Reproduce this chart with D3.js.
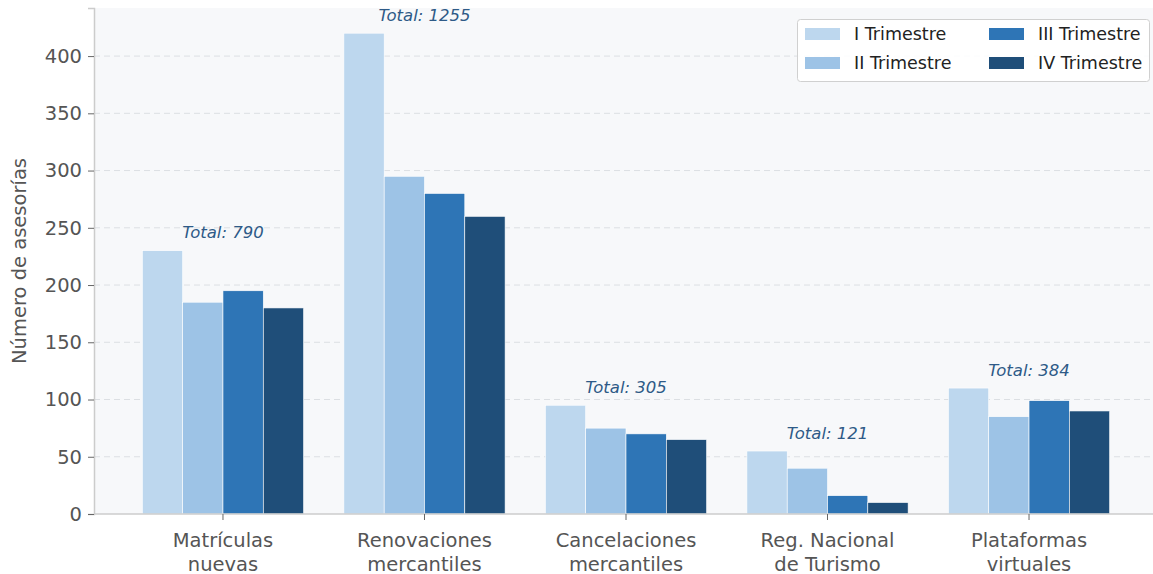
<!DOCTYPE html>
<html><head><meta charset="utf-8">
<script src="https://cdn.jsdelivr.net/npm/d3@7"></script>
<style>body{margin:0;background:#fff;} svg{display:block;font-family:"DejaVu Sans",sans-serif;}</style>
</head><body>
<svg id="c" width="1153" height="574"></svg>
<script>
const categories = [["Matrículas","nuevas"],["Renovaciones","mercantiles"],["Cancelaciones","mercantiles"],["Reg. Nacional","de Turismo"],["Plataformas","virtuales"]];
const seriesNames = ["I Trimestre","II Trimestre","III Trimestre","IV Trimestre"];
const q1 = [230, 420, 95, 55, 110];
const q2 = [185, 295, 75, 40, 85];
const q3 = [195, 280, 70, 16, 99];
const q4 = [180, 260, 65, 10, 90];
const totals = [790, 1255, 305, 121, 384];
const yTicks = [0,50,100,150,200,250,300,350,400];
const colors = ["#bdd7ee","#9dc3e6","#2e75b6","#1f4e79"];
const series = [q1,q2,q3,q4];

const svg = d3.select("#c");
const L = 94, R = 1158, T = 8, B = 514;
const x = d3.scaleLinear().domain([-0.64, 4.64]).range([L, R]);
const y = d3.scaleLinear().domain([0, 442]).range([B, T]);
const bw = 0.2;

svg.append("rect").attr("x",L).attr("y",T).attr("width",R-L).attr("height",B-T).attr("fill","#f7f8fa");

// grid
svg.append("g").selectAll("line").data(yTicks.slice(1)).join("line")
  .attr("x1",L).attr("x2",R).attr("y1",d=>y(d)).attr("y2",d=>y(d))
  .attr("stroke","#dcdfe3").attr("stroke-dasharray","6,4").attr("stroke-width",1);

// bars
series.forEach((s,si)=>{
  svg.append("g").selectAll("rect").data(s).join("rect")
    .attr("x",(d,i)=>x(i+(si-1.5)*bw - bw/2))
    .attr("width",x(bw)-x(0))
    .attr("y",d=>y(d)).attr("height",d=>y(0)-y(d))
    .attr("fill",colors[si]).attr("stroke","#ffffff").attr("stroke-width",0.6);
});

// totals
svg.append("g").selectAll("text").data(totals).join("text")
  .attr("x",(d,i)=>x(i)).attr("y",(d,i)=>y(Math.max(q1[i],q2[i],q3[i],q4[i])+10)-1)
  .attr("text-anchor","middle").attr("font-style","italic").attr("font-size",16.5)
  .attr("fill","#2e5a87").text(d=>"Total: "+d);

// axes
const yAxis = d3.axisLeft(y).tickValues(yTicks).tickSize(6).tickPadding(6);
const gy = svg.append("g").attr("transform",`translate(${L},0)`).call(yAxis);
gy.select(".domain").attr("stroke","#cccccc").attr("stroke-width",1.5);
gy.selectAll(".tick line").attr("stroke","#666");
gy.selectAll(".tick text").attr("font-size",19.5).attr("fill","#555").attr("font-family","DejaVu Sans");

const gx = svg.append("g").attr("transform",`translate(0,${B})`);
gx.append("line").attr("x1",L).attr("x2",R).attr("y1",0).attr("y2",0).attr("stroke","#cccccc").attr("stroke-width",1.5);
const xt = gx.selectAll("g.t").data(categories).join("g").attr("class","t").attr("transform",(d,i)=>`translate(${x(i)},0)`);
xt.append("line").attr("y1",0).attr("y2",6).attr("stroke","#666");
xt.append("text").attr("text-anchor","middle").attr("font-size",19.5).attr("fill","#555")
  .selectAll("tspan").data(d=>d).join("tspan").attr("x",0).attr("y",(d,j)=>33+j*24).text(d=>d);

// y label
svg.append("text").attr("transform",`translate(26,${(T+B)/2}) rotate(-90)`)
  .attr("text-anchor","middle").attr("font-size",19.5).attr("fill","#555").text("Número de asesorías");

// legend
const lg = svg.append("g");
lg.append("rect").attr("x",797.5).attr("y",19.5).attr("width",352).attr("height",62).attr("rx",3)
  .attr("fill","#fff").attr("fill-opacity",0.9).attr("stroke","#d0d0d0").attr("stroke-width",1);
seriesNames.forEach((n,i)=>{
  const col = Math.floor(i/2), row = i%2;
  const lx = 805 + col*184, ly = 34 + row*29;
  lg.append("rect").attr("x",lx).attr("y",ly-6).attr("width",35).attr("height",12).attr("fill",colors[i]);
  lg.append("text").attr("x",lx+49).attr("y",ly+6).attr("font-size",17.5).attr("fill","#222").text(n);
});
</script>
</body></html>
